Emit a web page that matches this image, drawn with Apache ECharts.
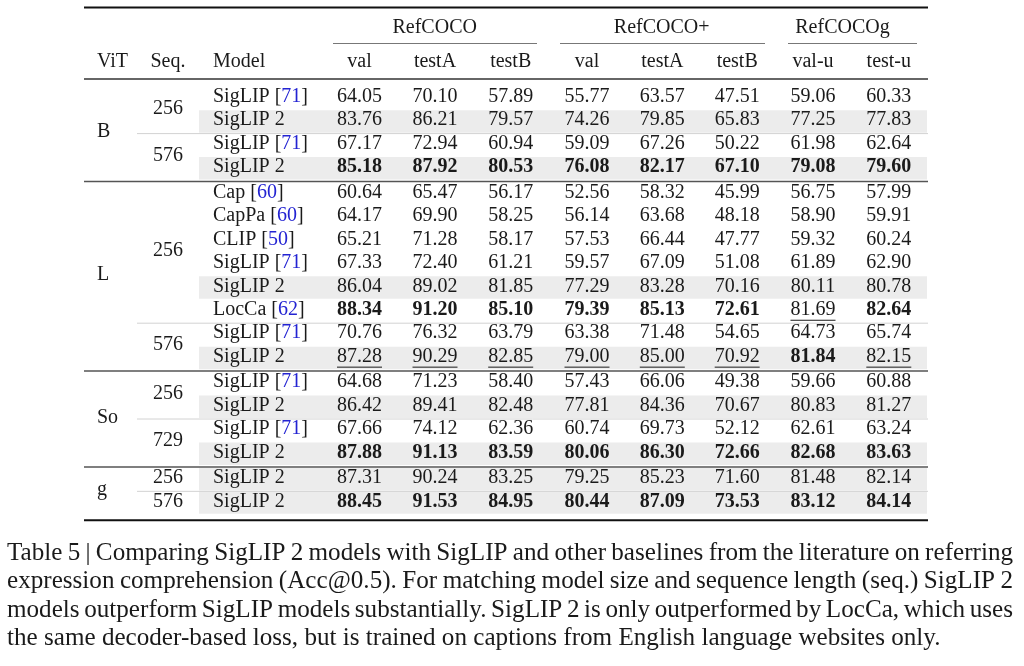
<!DOCTYPE html>
<html><head><meta charset="utf-8">
<script src="https://cdn.jsdelivr.net/npm/echarts@6/dist/echarts.min.js"></script>
<style>html,body{margin:0;padding:0;background:#fff}#c{width:1024px;height:666px}</style>
</head><body><div id="c"></div>
<script>
// ---------------- data ----------------
const datasetGroups = ['RefCOCO', 'RefCOCO+', 'RefCOCOg'];
const splitNames = ['val', 'testA', 'testB', 'val', 'testA', 'testB', 'val-u', 'test-u'];
const headerLabels = ['ViT', 'Seq.', 'Model'];
const vitSizes = ['B', 'L', 'So', 'g'];
const rowVit = [0,0,0,0, 1,1,1,1,1,1,1,1, 2,2,2,2, 3,3];
const rowSeq = ['256','256','576','576', '256','256','256','256','256','256','576','576', '256','256','729','729', '256','576'];
const rowModel = ['SigLIP','SigLIP 2','SigLIP','SigLIP 2', 'Cap','CapPa','CLIP','SigLIP','SigLIP 2','LocCa','SigLIP','SigLIP 2', 'SigLIP','SigLIP 2','SigLIP','SigLIP 2', 'SigLIP 2','SigLIP 2'];
const rowCite = ['71','','71','', '60','60','50','71','','62','71','', '71','','71','', '',''];
const scores = [
  [64.05, 70.10, 57.89, 55.77, 63.57, 47.51, 59.06, 60.33],
  [83.76, 86.21, 79.57, 74.26, 79.85, 65.83, 77.25, 77.83],
  [67.17, 72.94, 60.94, 59.09, 67.26, 50.22, 61.98, 62.64],
  [85.18, 87.92, 80.53, 76.08, 82.17, 67.10, 79.08, 79.60],
  [60.64, 65.47, 56.17, 52.56, 58.32, 45.99, 56.75, 57.99],
  [64.17, 69.90, 58.25, 56.14, 63.68, 48.18, 58.90, 59.91],
  [65.21, 71.28, 58.17, 57.53, 66.44, 47.77, 59.32, 60.24],
  [67.33, 72.40, 61.21, 59.57, 67.09, 51.08, 61.89, 62.90],
  [86.04, 89.02, 81.85, 77.29, 83.28, 70.16, 80.11, 80.78],
  [88.34, 91.20, 85.10, 79.39, 85.13, 72.61, 81.69, 82.64],
  [70.76, 76.32, 63.79, 63.38, 71.48, 54.65, 64.73, 65.74],
  [87.28, 90.29, 82.85, 79.00, 85.00, 70.92, 81.84, 82.15],
  [64.68, 71.23, 58.40, 57.43, 66.06, 49.38, 59.66, 60.88],
  [86.42, 89.41, 82.48, 77.81, 84.36, 70.67, 80.83, 81.27],
  [67.66, 74.12, 62.36, 60.74, 69.73, 52.12, 62.61, 63.24],
  [87.88, 91.13, 83.59, 80.06, 86.30, 72.66, 82.68, 83.63],
  [87.31, 90.24, 83.25, 79.25, 85.23, 71.60, 81.48, 82.14],
  [88.45, 91.53, 84.95, 80.44, 87.09, 73.53, 83.12, 84.14]
];
// 1 = best (bold), 2 = second best (underlined), 0 = plain
const ranks = [
  [0,0,0,0,0,0,0,0],[0,0,0,0,0,0,0,0],[0,0,0,0,0,0,0,0],[1,1,1,1,1,1,1,1],
  [0,0,0,0,0,0,0,0],[0,0,0,0,0,0,0,0],[0,0,0,0,0,0,0,0],[0,0,0,0,0,0,0,0],
  [0,0,0,0,0,0,0,0],[1,1,1,1,1,1,2,1],[0,0,0,0,0,0,0,0],[2,2,2,2,2,2,1,2],
  [0,0,0,0,0,0,0,0],[0,0,0,0,0,0,0,0],[0,0,0,0,0,0,0,0],[1,1,1,1,1,1,1,1],
  [0,0,0,0,0,0,0,0],[1,1,1,1,1,1,1,1]
];
const captionLines = [
  'Table 5 | Comparing SigLIP 2 models with SigLIP and other baselines from the literature on referring',
  'expression comprehension (Acc@0.5). For matching model size and sequence length (seq.) SigLIP 2',
  'models outperform SigLIP models substantially. SigLIP 2 is only outperformed by LocCa, which uses',
  'the same decoder-based loss, but is trained on captions from English language websites only.'
];

// ---------------- layout / style ----------------
const FONT = "'Liberation Serif', 'Times New Roman', serif";
const INK = '#1a1a1a';
const BLUE = '#2323d2';
const SHADE = '#ececec';
const FS = 20;
const X = { ruleL: 84, ruleR: 928, vit: 97, seq: 168, model: 213, shadeL: 199, shadeR: 927, seqRuleL: 137,
  num: [359.5, 435, 510.7, 587, 662.3, 737.2, 813, 888.8],
  group: [434.7, 661.7, 842.5],
  cmid: [[333, 537], [560, 765], [788, 917]],
  capL: 7, capR: 1013, capLastW: 934 };
const Y = { top: 7.5, head1: 28, cmid: 43.5, head2: 61.5, mid: 79, row0: 96.7, rowH: 23.45, gap: 2,
  cap: [553, 581.5, 610, 638.5] };
function rowY(i) { return Y.row0 + i * Y.rowH + rowVit[i] * Y.gap; }

const mctx = document.createElement('canvas').getContext('2d');
function textW(s, size, weight) { mctx.font = (weight || 'normal') + ' ' + size + 'px ' + FONT; return mctx.measureText(s).width; }

// structural rules derived from the row structure
const rules = [];
rules.push({ x1: X.ruleL, x2: X.ruleR, y: Y.top, w: 2, c: '#111' });
X.cmid.forEach(function (s) { rules.push({ x1: s[0], x2: s[1], y: Y.cmid, w: 1.2, c: '#777' }); });
rules.push({ x1: X.ruleL, x2: X.ruleR, y: Y.mid, w: 1.5, c: '#333' });
for (let i = 1; i < rowVit.length; i++) {
  if (rowVit[i] !== rowVit[i - 1]) rules.push({ x1: X.ruleL, x2: X.ruleR, y: rowY(i) - 11, w: 1.5, c: '#555' });
  else if (rowSeq[i] !== rowSeq[i - 1]) rules.push({ x1: X.seqRuleL, x2: X.ruleR, y: rowY(i) - 10, w: 1, c: '#d2d2d2' });
}
rules.push({ x1: X.ruleL, x2: X.ruleR, y: rowY(rowVit.length - 1) + 19, w: 2, c: '#111' });

// blocks for ViT and Seq labels
const vitBlocks = [], seqBlocks = [];
for (let i = 0; i < rowVit.length; i++) {
  if (i === 0 || rowVit[i] !== rowVit[i - 1]) vitBlocks.push({ label: vitSizes[rowVit[i]], rows: [] });
  vitBlocks[vitBlocks.length - 1].rows.push(i);
  if (i === 0 || rowVit[i] !== rowVit[i - 1] || rowSeq[i] !== rowSeq[i - 1]) seqBlocks.push({ label: rowSeq[i], rows: [] });
  seqBlocks[seqBlocks.length - 1].rows.push(i);
}
function blockY(b) { let s = 0; b.rows.forEach(function (r) { s += rowY(r); }); return s / b.rows.length; }

const shadeRows = [];
rowModel.forEach(function (m, i) { if (m === 'SigLIP 2') shadeRows.push([0, i]); });
const cells = [];
scores.forEach(function (row, r) { row.forEach(function (v, c) { cells.push([c, r]); }); });

function font(weight) { return (weight || 'normal') + ' ' + FS + 'px ' + FONT; }
function txt(p, text, align, weight) {
  return { type: 'text', x: p[0], y: p[1], style: { text: text, font: font(weight), fill: INK, align: align, verticalAlign: 'middle' } };
}

// ---------------- caption (justified) ----------------
const capSize = 100 * X.capLastW / textW(captionLines[3], 100);
const capEls = [];
captionLines.forEach(function (line, li) {
  const words = line.split(' ');
  const ws = words.map(function (w) { return textW(w, capSize); });
  const sum = ws.reduce(function (a, b) { return a + b; }, 0);
  const gap = li < captionLines.length - 1 ? (X.capR - X.capL - sum) / (words.length - 1) : textW(' ', capSize);
  let x = X.capL;
  words.forEach(function (w, k) {
    capEls.push({ type: 'text', x: x, y: Y.cap[li], style: { text: w, font: capSize.toFixed(2) + 'px ' + FONT, fill: INK, verticalAlign: 'middle' } });
    x += ws[k] + gap;
  });
});

// ---------------- chart ----------------
const chart = echarts.init(document.getElementById('c'));
chart.setOption({
  animation: false,
  backgroundColor: '#fff',
  grid: { left: 0, right: 0, top: 0, bottom: 0 },
  xAxis: { type: 'value', min: 0, max: 1024, show: false },
  yAxis: { type: 'value', min: 0, max: 666, inverse: true, show: false },
  graphic: { elements: capEls },
  series: [
    { // shaded SigLIP 2 rows
      type: 'custom', z: 1, data: shadeRows,
      renderItem: function (params, api) {
        const r = api.value(1);
        const a = api.coord([X.shadeL, rowY(r) - 10]);
        const b = api.coord([X.shadeR, rowY(r) + 12.5]);
        return { type: 'rect', shape: { x: a[0], y: a[1], width: b[0] - a[0], height: b[1] - a[1] }, style: { fill: SHADE } };
      }
    },
    { // table rules
      type: 'custom', z: 2, data: rules.map(function (r, i) { return [i, 0]; }),
      renderItem: function (params, api) {
        const rl = rules[params.dataIndex];
        const a = api.coord([rl.x1, rl.y]), b = api.coord([rl.x2, rl.y]);
        return { type: 'line', shape: { x1: a[0], y1: a[1], x2: b[0], y2: b[1] }, style: { stroke: rl.c, lineWidth: rl.w } };
      }
    },
    { // header
      type: 'custom', z: 3, data: [[0, 0]],
      renderItem: function (params, api) {
        const ch = [];
        ch.push(txt(api.coord([X.vit, Y.head2]), headerLabels[0], 'left'));
        ch.push(txt(api.coord([X.seq, Y.head2]), headerLabels[1], 'center'));
        ch.push(txt(api.coord([X.model, Y.head2]), headerLabels[2], 'left'));
        splitNames.forEach(function (s, c) { ch.push(txt(api.coord([X.num[c], Y.head2]), s, 'center')); });
        datasetGroups.forEach(function (g, k) { ch.push(txt(api.coord([X.group[k], Y.head1]), g, 'center')); });
        return { type: 'group', children: ch };
      }
    },
    { // ViT labels
      type: 'custom', z: 3, data: vitBlocks.map(function (b, i) { return [i, 0]; }),
      renderItem: function (params, api) {
        const b = vitBlocks[params.dataIndex];
        return txt(api.coord([X.vit, blockY(b)]), b.label, 'left');
      }
    },
    { // Seq labels
      type: 'custom', z: 3, data: seqBlocks.map(function (b, i) { return [i, 0]; }),
      renderItem: function (params, api) {
        const b = seqBlocks[params.dataIndex];
        return txt(api.coord([X.seq, blockY(b)]), b.label, 'center');
      }
    },
    { // model names with blue citations
      type: 'custom', z: 3, data: rowModel.map(function (m, i) { return [0, i]; }),
      renderItem: function (params, api) {
        const r = api.value(1);
        const p = api.coord([X.model, rowY(r)]);
        const name = rowModel[r], cite = rowCite[r];
        const text = cite ? '{t|' + name + ' [}{c|' + cite + '}{t|]}' : '{t|' + name + '}';
        return { type: 'text', x: p[0], y: p[1], style: { text: text, font: font(), fill: INK, align: 'left', verticalAlign: 'middle',
          rich: { t: { fill: INK, font: font() }, c: { fill: BLUE, font: font() } } } };
      }
    },
    { // score cells
      type: 'custom', z: 3, data: cells,
      renderItem: function (params, api) {
        const c = api.value(0), r = api.value(1);
        const v = scores[r][c], rank = ranks[r][c];
        const p = api.coord([X.num[c], rowY(r)]);
        const s = v.toFixed(2);
        const ch = [txt(p, s, 'center', rank === 1 ? 'bold' : 'normal')];
        if (rank === 2) {
          const w = textW(s, FS);
          ch.push({ type: 'line', shape: { x1: p[0] - w / 2, y1: p[1] + 10.5, x2: p[0] + w / 2, y2: p[1] + 10.5 }, style: { stroke: INK, lineWidth: 1 } });
        }
        return { type: 'group', children: ch };
      }
    }
  ]
});
</script>
</body></html>
